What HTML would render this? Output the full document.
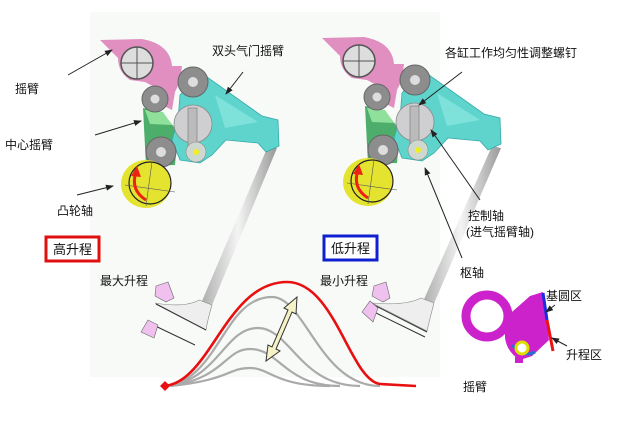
<!DOCTYPE html>
<html><head><meta charset="utf-8"><style>
body{margin:0;background:#fff}
svg{display:block}
text{font-family:"Liberation Sans","Noto Sans CJK SC",sans-serif;font-size:12px;fill:#111}
</style></head><body>
<svg width="640" height="426" viewBox="0 0 640 426" xmlns="http://www.w3.org/2000/svg">
<defs>
<linearGradient id="st" x1="0" y1="0" x2="1" y2="0"><stop offset="0" stop-color="#aaa"/><stop offset=".5" stop-color="#f4f4f4"/><stop offset="1" stop-color="#999"/></linearGradient>
<marker id="ah" markerWidth="8" markerHeight="8" refX="7" refY="4" orient="auto"><path d="M0,1 L8,4 L0,7Z" fill="#222"/></marker>
<g id="mech">
 <path d="M100,40 L142,39 Q170,44 172,66 L182,66 L180,82 L175,92 L172,110 L164,106 L160,90 L145,82 L130,80 Q118,72 118,58 Z" fill="#e08fc0"/>
 <circle cx="137" cy="63" r="16" fill="#ddd" stroke="#555" stroke-width="1.5"/>
 <line x1="121" y1="63" x2="153" y2="63" stroke="#555"/><line x1="137" y1="47" x2="137" y2="79" stroke="#555"/>
 <path d="M143,108 L162,112 L178,132 L175,165 L146,166 Z" fill="#4cae6a"/>
 <path d="M145,110 L163,112 L172,125 L150,124 Z" fill="#8fe09a"/>
 <path d="M180,95 L200,72 L262,116 L278,120 L279,146 L266,152 L258,143 L226,140 L212,155 L200,163 L180,160 L172,140 L178,120 Z" fill="#5fd4cc" stroke="#3aa" stroke-width=".8"/>
 <path d="M215,95 L258,122 L225,128 Z" fill="#7fe2da"/>
 <circle cx="193" cy="124" r="19" fill="#cfcfd2" stroke="#888" stroke-width=".8"/>
 <rect x="188" y="108" width="9" height="42" fill="#bbb" stroke="#777" stroke-width=".6"/>
 <circle cx="196" cy="152" r="10" fill="#cfd8cf" stroke="#888" stroke-width=".6"/>
 <circle cx="196" cy="152" r="3" fill="#ee2"/>
 <circle cx="193" cy="82" r="15" fill="#8d8d8d" stroke="#666"/><circle cx="193" cy="82" r="5" fill="#ddd"/>
 <circle cx="155" cy="99" r="13" fill="#8d8d8d" stroke="#666"/><circle cx="155" cy="99" r="4.5" fill="#ddd"/>
 <circle cx="161" cy="152" r="15" fill="#8d8d8d" stroke="#666"/><circle cx="161" cy="152" r="5" fill="#ddd"/>
 <ellipse cx="146" cy="184" rx="25" ry="24" fill="#e3e330"/>
 <circle cx="150" cy="183" r="21" fill="none" stroke="#222" stroke-width="1.2"/>
 <line x1="125" y1="185" x2="175" y2="192" stroke="#555" stroke-width=".6"/><line x1="152" y1="162" x2="146" y2="206" stroke="#555" stroke-width=".6"/>
 <path d="M146,200 Q130,190 136,172" fill="none" stroke="#e21" stroke-width="3"/>
 <path d="M131,176 L137,166 L141,177Z" fill="#e21"/>
</g>
</defs>
<rect x="90" y="12" width="350" height="365" fill="#f7faf7"/>
<!-- valves -->
<path d="M268,146 L277,148 L210,310 L199,308 Z" fill="url(#st)"/>
<path d="M199,300 L212,305 Q208,318 206,330 L155,303 Q185,308 199,300Z" fill="#eee" stroke="#888" stroke-width=".6"/>
<line x1="156" y1="304" x2="206" y2="330" stroke="#333"/>
<line x1="147" y1="322" x2="195" y2="345" stroke="#333"/>
<path d="M492,146 L501,148 L432,308 L421,306 Z" fill="url(#st)"/>
<path d="M421,298 L434,303 Q430,318 427,331 L372,303 Q405,306 421,298Z" fill="#eee" stroke="#888" stroke-width=".6"/>
<line x1="372" y1="304" x2="427" y2="332" stroke="#333"/>
<line x1="370" y1="310" x2="425" y2="337" stroke="#333"/>
<use href="#mech"/>
<use href="#mech" transform="translate(222,-2)"/>
<!-- pink arrows -->
<path d="M156,286 L168,282 L174,298 L166,302 L155,296Z" fill="#f0c0ee" stroke="#666" stroke-width=".6"/>
<path d="M141,332 L148,320 L158,325 L154,338Z" fill="#f0c0ee" stroke="#666" stroke-width=".6"/>
<path d="M374,286 L386,282 L390,298 L383,302 L372,296Z" fill="#f0c0ee" stroke="#666" stroke-width=".6"/>
<path d="M362,312 L370,301 L378,308 L373,322Z" fill="#f0c0ee" stroke="#666" stroke-width=".6"/>
<!-- lift curves -->
<g fill="none" stroke="#aaa" stroke-width="2.2">
<path d="M170,386 C230,380 228,368 250,368 C270,368 275,386 330,386"/>
<path d="M170,386 C225,378 225,349 250,349 C280,349 285,386 340,386"/>
<path d="M170,386 C220,376 225,328 258,328 C290,328 300,386 360,386"/>
<path d="M170,386 C220,374 225,297 272,297 C305,297 320,386 380,386"/>
</g>
<path d="M162,386 C210,386 225,282 287,282 C335,282 350,380 380,384 L416,386" fill="none" stroke="#e81010" stroke-width="2.6"/>
<path d="M160,386 L165,381 L170,386 L165,391Z" fill="#e81010"/>
<path d="M266,361 L268,345 L272,347 L288,310 L284,308 L297,297 L296,314 L292,312 L276,349 L280,351Z" fill="#f6f2c8" stroke="#333" stroke-width="1"/>
<!-- rocker arm bottom-right -->
<path d="M505,318 Q520,305 530,296 L543,292 L549,340 L532,356 L520,360 Q507,352 505,338Z" fill="#cc22cc"/>
<circle cx="487" cy="316" r="21" fill="none" stroke="#cc22cc" stroke-width="9"/>
<path d="M512,345 Q524,358 535,352" fill="none" stroke="#2a6fd0" stroke-width="3"/>
<circle cx="522" cy="348" r="6" fill="#fff" stroke="#dd0" stroke-width="3"/>
<rect x="515" y="357" width="8" height="6" fill="#cc22cc"/>
<line x1="543" y1="293" x2="547" y2="320" stroke="#1a2ee0" stroke-width="3"/>
<line x1="547" y1="320" x2="553" y2="351" stroke="#ee1111" stroke-width="3"/>
<!-- leader lines -->
<g stroke="#222" stroke-width="1" marker-end="url(#ah)">
<line x1="68" y1="75" x2="112" y2="50"/>
<line x1="95" y1="135" x2="141" y2="121"/>
<line x1="77" y1="195" x2="113" y2="186"/>
<line x1="243" y1="72" x2="226" y2="94"/>
<line x1="462" y1="72" x2="419" y2="105"/>
<line x1="480" y1="200" x2="431" y2="130"/>
<line x1="462" y1="258" x2="425" y2="168"/>
<line x1="555" y1="305" x2="546" y2="312"/>
<line x1="567" y1="346" x2="552" y2="338"/>
</g>
<!-- labels -->
<text x="15" y="93">摇臂</text>
<text x="5" y="149">中心摇臂</text>
<text x="57" y="215">凸轮轴</text>
<text x="212" y="55">双头气门摇臂</text>
<text x="445" y="57">各缸工作均匀性调整螺钉</text>
<text x="468" y="220">控制轴</text>
<text x="466" y="236">(进气摇臂轴)</text>
<text x="460" y="277">枢轴</text>
<text x="100" y="285">最大升程</text>
<text x="320" y="285">最小升程</text>
<text x="546" y="300">基圆区</text>
<text x="566" y="359">升程区</text>
<text x="463" y="391">摇臂</text>
<rect x="46" y="237" width="53" height="24" fill="#fff" stroke="#e01010" stroke-width="3"/>
<text x="53" y="254" style="font-size:13px">高升程</text>
<rect x="324" y="236" width="53" height="24" fill="#fff" stroke="#1020d0" stroke-width="3"/>
<text x="331" y="253" style="font-size:13px">低升程</text>
</svg>
</body></html>
